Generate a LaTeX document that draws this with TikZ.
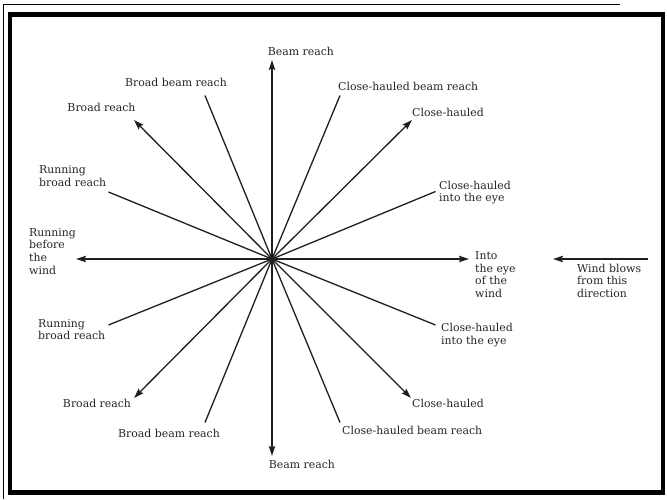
\documentclass[tikz,border=0pt]{standalone}
\usepackage{fontspec}
\setmainfont{DejaVu Serif}
\usetikzlibrary{arrows.meta}
\begin{document}
\begin{tikzpicture}[x=1pt,y=-1pt,
  ray/.style={line width=1.3pt, draw=black!88},
  arr/.style={ray, -{Stealth[length=10pt,width=6.5pt,inset=1.5pt]}},
  lbl/.style={font=\fontsize{10.9}{12.6}\selectfont, inner sep=0pt, text=black!85},
  lblw/.style={lbl, anchor=base west, align=left},
  lblc/.style={lbl, anchor=base},
]
\useasboundingbox (0,0) rectangle (667,499);
\fill[white] (0,0) rectangle (667,499);
% frame
\draw[line width=4.5pt] (10,14.5) rectangle (663,492.5);
\draw[line width=1pt] (3.5,499) -- (3.5,4) -- (620,4);

% centre and ray ends
\coordinate (O) at (272,259);
\coordinate (tN) at (272,60);
\coordinate (tS) at (272,456);
\coordinate (tW) at (76,259);
\coordinate (tE) at (469,259);
\coordinate (tNE) at (412,120);
\coordinate (tNW) at (134,120);
\coordinate (tSW) at (134,398);
\coordinate (tSE) at (411,398);
\coordinate (eNNE) at (340,95.5);
\coordinate (eNNW) at (205,95.5);
\coordinate (eSSE) at (340,422.5);
\coordinate (eSSW) at (205,422.5);
\coordinate (eENE) at (435.5,191.5);
\coordinate (eWNW) at (108.5,192);
\coordinate (eESE) at (435.5,325);
\coordinate (eWSW) at (108.5,325);
\coordinate (wStart) at (648,259);
\coordinate (wTip) at (553,259);

% rays
\draw[arr] (O) -- (tN);
\draw[arr] (O) -- (tS);
\draw[arr] (O) -- (tW);
\draw[arr] (O) -- (tE);
\draw[arr] (O) -- (tNE);
\draw[arr] (O) -- (tNW);
\draw[arr] (O) -- (tSW);
\draw[arr] (O) -- (tSE);
\draw[ray] (O) -- (eNNE);
\draw[ray] (O) -- (eNNW);
\draw[ray] (O) -- (eSSE);
\draw[ray] (O) -- (eSSW);
\draw[ray] (O) -- (eENE);
\draw[ray] (O) -- (eWNW);
\draw[ray] (O) -- (eESE);
\draw[ray] (O) -- (eWSW);
\draw[arr] (wStart) -- (wTip);

% labels (multi-line nodes: base = baseline of last line)
\node[lblc] (lN) at (301,55) {Beam reach};
\node[lblc] (lS) at (302,468) {Beam reach};
\node[lblw] (lNNE) at (338,90) {Close-hauled beam reach};
\node[lblw] (lSSE) at (342,434) {Close-hauled beam reach};
\node[lblw] (lNE) at (412,116.5) {Close-hauled};
\node[lblw] (lSE) at (412,407) {Close-hauled};
\node[lblw] (lENE) at (439,201.7) {Close-hauled\\into the eye};
\node[lblw] (lESE) at (441,344) {Close-hauled\\into the eye};
\node[lblw] (lE) at (475,297.3) {Into\\the eye\\of the\\wind};
\node[lblw] (lWind) at (577,297.3) {Wind blows\\from this\\direction};
\node[lblc] (lNNW) at (176,86) {Broad beam reach};
\node[lblc] (lSSW) at (169,437) {Broad beam reach};
\node[lblc] (lNW) at (101.5,111) {Broad reach};
\node[lblc] (lSW) at (97,407) {Broad reach};
\node[lblw] (lWNW) at (39,186) {Running\\broad reach};
\node[lblw] (lWSW) at (38,339.7) {Running\\broad reach};
\node[lblw] (lW) at (29,274) {Running\\before\\the\\wind};
\end{tikzpicture}
\end{document}
